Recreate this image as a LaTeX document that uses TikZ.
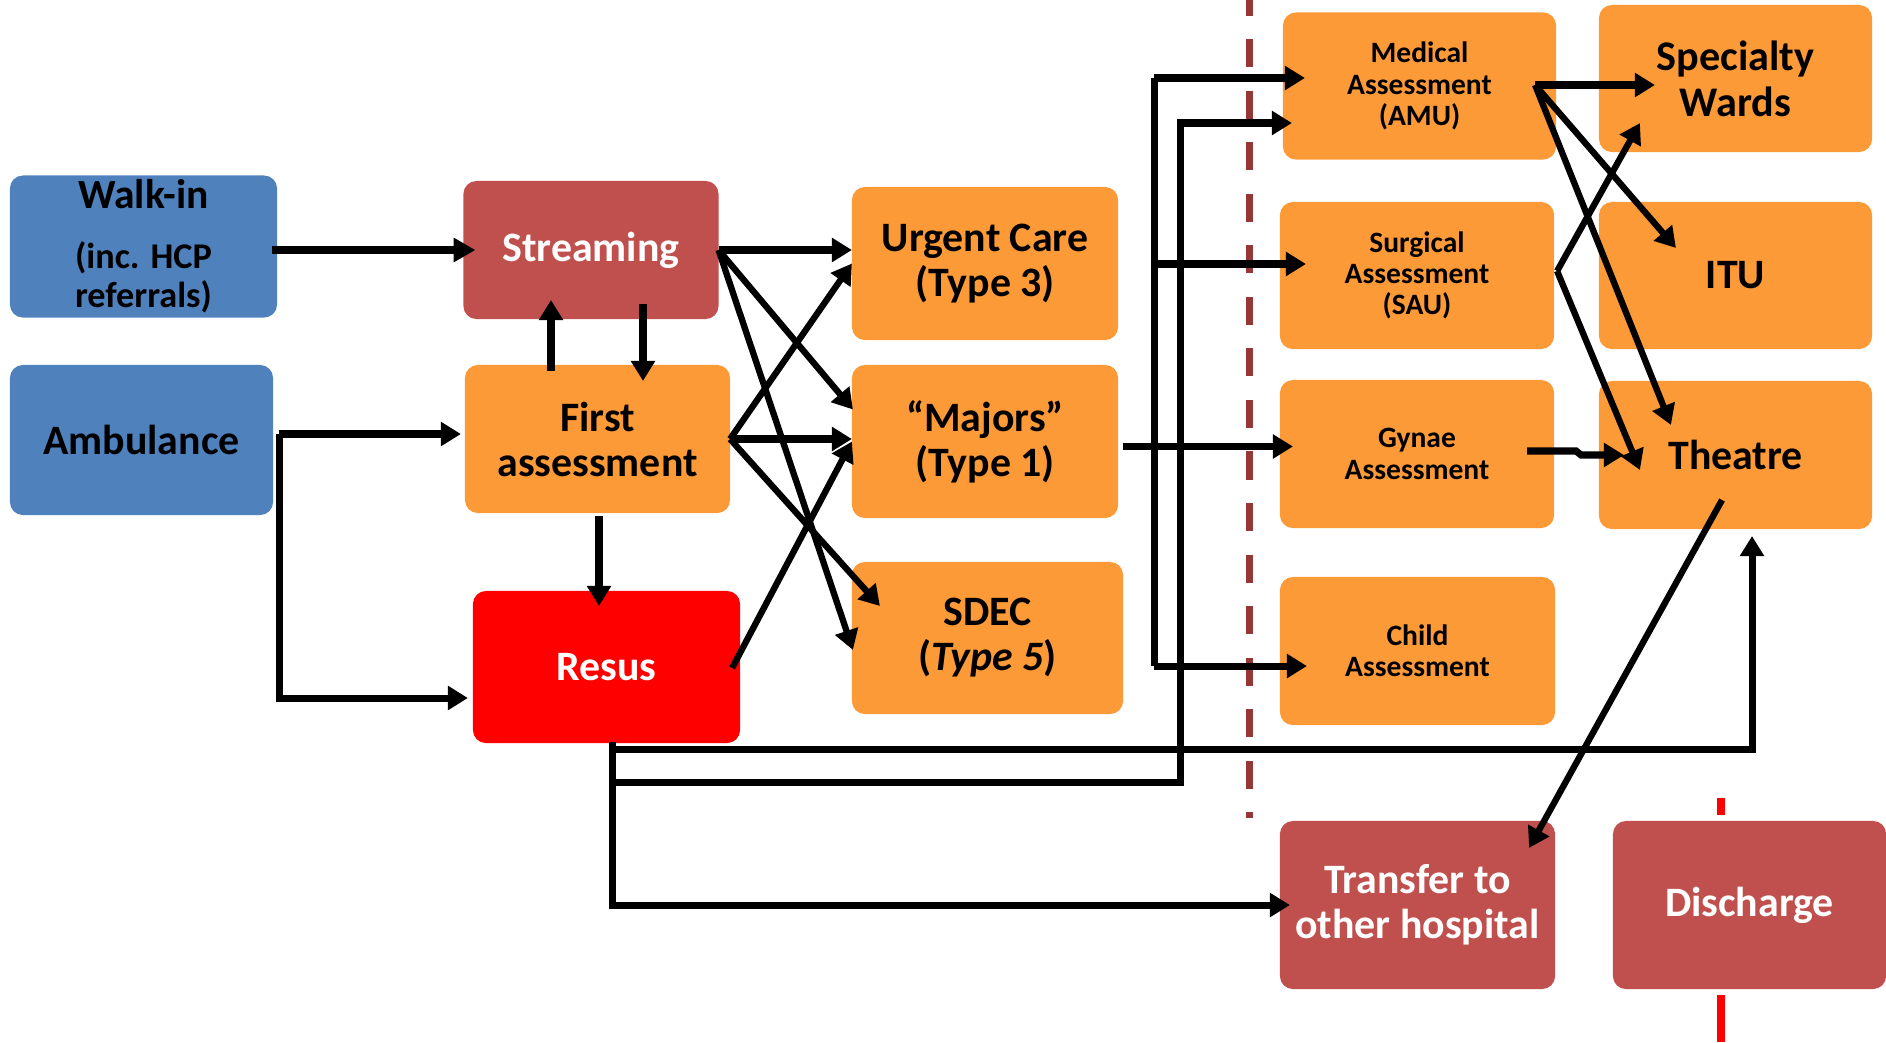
\documentclass[tikz,border=0pt]{standalone}
\usepackage{fontspec}
\setmainfont{Carlito}
\usetikzlibrary{arrows.meta}
\definecolor{bblue}{HTML}{4F81BD}
\definecolor{rust}{HTML}{C0504D}
\definecolor{orng}{HTML}{FD9A38}
\definecolor{dred}{HTML}{953735}
\tikzset{
  bx/.style={rectangle, rounded corners=3.7pt, inner sep=0pt, outer sep=0pt, align=center},
  bigt/.style={font=\bfseries\fontsize{11.9}{12.8}\selectfont},
  smallt/.style={font=\bfseries\fontsize{8.4}{8.9}\selectfont},
  wkt/.style={font=\bfseries\fontsize{10.3}{11.1}\selectfont},
  bluebox/.style={bx, fill=bblue, text=black},
  rustbox/.style={bx, fill=rust, text=white},
  orbox/.style={bx, fill=orng, text=black},
  redbox/.style={bx, fill=red, text=white},
  sz/.style 2 args={minimum width=#1, minimum height=#2},
  ln/.style={line width=2pt},
  arr/.style={line width=2pt, -{Triangle[length=5.7pt,width=6.6pt]}},
  darr/.style={line width=1.8pt, -{Triangle[length=5.7pt,width=6.6pt]}},
  thkarr/.style={line width=2.5pt, -{Triangle[length=6.2pt,width=6.6pt]}},
}
\begin{document}
\begin{tikzpicture}[x=0.01cm,y=-0.01cm]
\useasboundingbox (0,0) rectangle (1886,1042);
% dividers
\draw[dred, line width=2pt, dash pattern=on 7.97pt off 6.69pt, dash phase=3.56pt] (1249,0) -- (1249,818);
\draw[red, line width=2.3pt] (1721,798) -- (1721,815);
\draw[red, line width=2.3pt] (1721,995) -- (1721,1042);
% boxes
\node[bluebox, wkt, sz={2.67cm}{1.42cm}] (walkin) at (143.5,246.5) {{\fontsize{11.8}{12}\selectfont Walk-in}\\[6pt](inc. HCP\\referrals)};
\node[bluebox, bigt, sz={2.63cm}{1.50cm}] (amb) at (141.5,440) {Ambulance};
\node[rustbox, bigt, sz={2.55cm}{1.38cm}] (stream) at (591,250) {Streaming};
\node[orbox, bigt, sz={2.65cm}{1.48cm}] (fa) at (597.5,439) {First\\assessment};
\node[redbox, bigt, sz={2.67cm}{1.52cm}] (resus) at (606.5,667) {Resus};
\node[orbox, bigt, sz={2.66cm}{1.53cm}] (urgent) at (985,263.5) {Urgent Care\\(Type 3)};
\node[orbox, bigt, sz={2.66cm}{1.53cm}] (majors) at (985,441.5) {“Majors”\\(Type 1)};
\node[orbox, bigt, sz={2.71cm}{1.52cm}] (sdec) at (987.5,638) {SDEC\\(\textit{Type 5})};
\node[orbox, smallt, sz={2.73cm}{1.47cm}] (amu) at (1419.5,86) {Medical\\Assessment\\(AMU)};
\node[orbox, smallt, sz={2.74cm}{1.47cm}] (sau) at (1417,275.5) {Surgical\\Assessment\\(SAU)};
\node[orbox, smallt, sz={2.74cm}{1.48cm}] (gynae) at (1417,454) {Gynae\\Assessment};
\node[orbox, smallt, sz={2.75cm}{1.48cm}] (child) at (1417.5,651) {Child\\Assessment};
\node[orbox, font=\bfseries\fontsize{12}{13}\selectfont, sz={2.73cm}{1.47cm}] (spec) at (1735.5,78.5) {Specialty\\Wards};
\node[orbox, bigt, sz={2.73cm}{1.47cm}] (itu) at (1735.5,275.5) {ITU};
\node[orbox, bigt, sz={2.73cm}{1.48cm}] (theatre) at (1735.5,455) {Theatre};
\node[rustbox, bigt, sz={2.75cm}{1.68cm}] (transfer) at (1417.5,905) {Transfer to\\other hospital};
\node[rustbox, bigt, sz={2.73cm}{1.68cm}] (discharge) at (1749.5,905) {Discharge};
% helper coordinates
\coordinate (wkout) at ([shift={(-5,3.5)}]walkin.east);
\coordinate (stin) at ([shift={(12,0)}]stream.west);
\coordinate (ab) at ([shift={(6,-6)}]amb.east);
\coordinate (fain) at ([shift={(-4,0)}]fa.west);
\coordinate (resin) at ([shift={(-5,31)}]resus.west);
\coordinate (upS) at ([shift={(-46.5,6)}]fa.north);
\coordinate (upE) at ([shift={(-40,-19)}]stream.south);
\coordinate (dnS) at ([shift={(52,-15)}]stream.south);
\coordinate (dnE) at ([shift={(45.5,16)}]fa.north);
\coordinate (frS) at ([shift={(1.5,3)}]fa.south);
\coordinate (frE) at ([shift={(-7.5,15)}]resus.north);
\coordinate (smj) at ([shift={(1,-32)}]majors.west);
\coordinate (ssd) at ([shift={(1,12)}]sdec.west);
\coordinate (fsd) at ([shift={(28,-32)}]sdec.west);
\coordinate (rsS) at ([shift={(-8,1)}]resus.east);
\coordinate (mjout) at ([shift={(5,5)}]majors.east);
\coordinate (gyin) at ([shift={(13,-8)}]gynae.west);
\coordinate (t1top) at (1154,78);
\coordinate (t1mid) at (1154,264);
\coordinate (t1bot) at (1154,666);
\coordinate (amuin1) at ([shift={(22,-8)}]amu.west);
\coordinate (sauin) at ([shift={(26,-11.5)}]sau.west);
\coordinate (childin) at ([shift={(27,15)}]child.west);
\coordinate (t2top) at (1180,123);
\coordinate (t2bot) at (1180,782);
\coordinate (amuin2) at ([shift={(9,37)}]amu.west);
\coordinate (rb) at ([shift={(6,-1)}]resus.south);
\coordinate (yA) at (0,749);
\coordinate (thin) at ([shift={(16.5,7)}]theatre.south);
\coordinate (trin) at ([shift={(10,0)}]transfer.west);
\coordinate (amuo) at ([shift={(-21,-1)}]amu.east);
\coordinate (specin1) at ([shift={(56,6.5)}]spec.west);
\coordinate (ituin) at ([shift={(77,46)}]itu.north west);
\coordinate (thin1) at ([shift={(72,44)}]theatre.north west);
\coordinate (sauo) at ([shift={(3,-4.5)}]sau.east);
\coordinate (specin2) at ([shift={(41,-29)}]spec.south west);
\coordinate (thin2) at ([shift={(41,15)}]theatre.west);
\coordinate (gyo) at ([shift={(-27,-3)}]gynae.east);
\coordinate (gyj1) at (1576,451);
\coordinate (gyj2) at (1581,455);
\coordinate (thin3) at ([shift={(25,0)}]theatre.west);
\coordinate (tho) at ([shift={(-13.5,45)}]theatre.center);
\coordinate (trtop) at ([shift={(-26,27)}]transfer.north east);
% connectors, left part
\draw[thkarr] (wkout) -- (wkout -| stin);
\draw[arr] (ab) -- (ab -| fain);
\draw[arr] (ab) |- (resin);
\draw[arr] (upS) -- (upE);
\draw[arr] (dnS) -- (dnE);
\draw[arr] (frS) -- (frE);
\draw[arr] (stream.east) -- (stream.east -| urgent.west);
\draw[darr] (stream.east) -- (smj);
\draw[darr] (stream.east) -- (ssd);
\draw[darr] (fa.east) -- (urgent.west);
\draw[arr] (fa.east) -- (fa.east -| majors.west);
\draw[darr] (fa.east) -- (fsd);
\draw[darr] (rsS) -- (majors.west);
% middle part
\draw[arr] (mjout) -- (mjout -| gyin);
\draw[ln] (t1top) -- (t1bot);
\draw[arr] (t1top) -- (t1top -| amuin1);
\draw[arr] (t1mid) -- (t1mid -| sauin);
\draw[arr] (t1bot) -- (t1bot -| childin);
\draw[arr] (rb) |- (t2bot) -- (t2top) -- (t2top -| amuin2);
\draw[arr] (rb) |- (thin |- yA) -- (thin);
\draw[arr] (rb) |- (trin);
% right part
\draw[arr] (amuo) -- (amuo -| specin1);
\draw[darr] (amuo) -- (ituin);
\draw[darr] (amuo) -- (thin1);
\draw[darr] (sauo) -- (specin2);
\draw[darr] (sauo) -- (thin2);
\draw[arr] (gyo) -- (gyj1) -- (gyj2) -- (thin3);
\draw[darr] (tho) -- (trtop);
\end{tikzpicture}
\end{document}
